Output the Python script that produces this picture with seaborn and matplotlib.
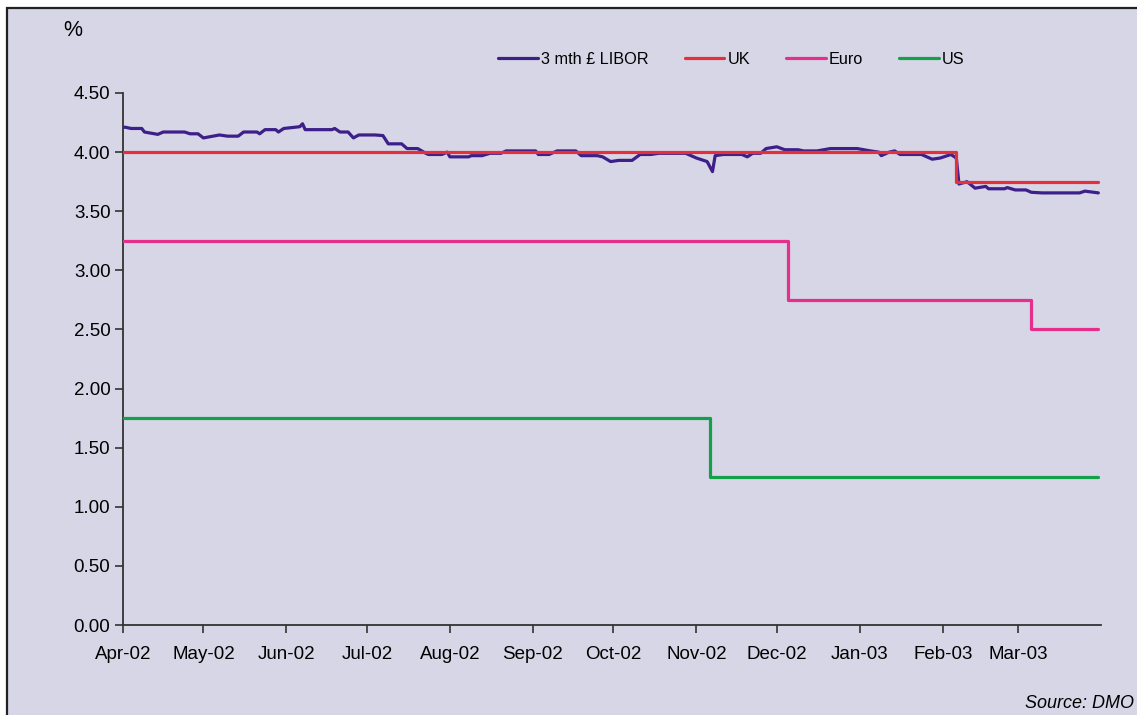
import pandas as pd
import matplotlib
matplotlib.use("Agg")
import matplotlib.pyplot as plt
import matplotlib.dates as mdates
from matplotlib.patches import Rectangle
from matplotlib.ticker import FormatStrFormatter
import seaborn as sns

# 3 month sterling LIBOR
libor_dates = [
    "2002-04-01", "2002-04-02", "2002-04-04", "2002-04-08", "2002-04-09", "2002-04-14",
    "2002-04-16", "2002-04-24", "2002-04-26", "2002-04-29", "2002-05-01", "2002-05-07",
    "2002-05-10", "2002-05-14", "2002-05-16", "2002-05-21", "2002-05-22", "2002-05-24",
    "2002-05-28", "2002-05-29", "2002-05-31", "2002-06-06", "2002-06-07", "2002-06-08",
    "2002-06-18", "2002-06-19", "2002-06-21", "2002-06-24", "2002-06-26", "2002-06-28",
    "2002-07-04", "2002-07-07", "2002-07-09", "2002-07-14", "2002-07-16", "2002-07-20",
    "2002-07-23", "2002-07-24", "2002-07-29", "2002-07-31", "2002-08-01", "2002-08-08",
    "2002-08-09", "2002-08-13", "2002-08-16", "2002-08-20", "2002-08-22", "2002-09-02",
    "2002-09-03", "2002-09-07", "2002-09-10", "2002-09-17", "2002-09-19", "2002-09-25",
    "2002-09-27", "2002-09-30", "2002-10-03", "2002-10-08", "2002-10-11", "2002-10-15",
    "2002-10-18", "2002-10-28", "2002-11-01", "2002-11-05", "2002-11-07", "2002-11-08",
    "2002-11-11", "2002-11-18", "2002-11-20", "2002-11-22", "2002-11-25", "2002-11-27",
    "2002-12-01", "2002-12-04", "2002-12-09", "2002-12-11", "2002-12-16", "2002-12-21",
    "2002-12-31", "2003-01-05", "2003-01-08", "2003-01-09", "2003-01-12", "2003-01-14",
    "2003-01-16", "2003-01-24", "2003-01-28", "2003-01-31", "2003-02-04", "2003-02-06",
    "2003-02-07", "2003-02-10", "2003-02-13", "2003-02-17", "2003-02-18", "2003-02-24",
    "2003-02-25", "2003-02-28", "2003-03-04", "2003-03-06", "2003-03-10", "2003-03-24",
    "2003-03-26", "2003-03-31",
]
libor_values = [
    4.21, 4.21, 4.20, 4.20, 4.17, 4.15,
    4.17, 4.17, 4.155, 4.155, 4.12, 4.145,
    4.135, 4.135, 4.17, 4.17, 4.155, 4.19,
    4.19, 4.17, 4.20, 4.215, 4.24, 4.19,
    4.19, 4.20, 4.17, 4.17, 4.12, 4.145,
    4.145, 4.14, 4.07, 4.07, 4.03, 4.03,
    3.99, 3.98, 3.98, 4.00, 3.96, 3.96,
    3.97, 3.97, 3.99, 3.99, 4.01, 4.01,
    3.98, 3.98, 4.01, 4.01, 3.97, 3.97,
    3.96, 3.92, 3.93, 3.93, 3.98, 3.98,
    3.99, 3.99, 3.95, 3.92, 3.835, 3.97,
    3.98, 3.98, 3.96, 3.99, 3.99, 4.03,
    4.045, 4.02, 4.02, 4.01, 4.01, 4.03,
    4.03, 4.01, 4.00, 3.97, 4.00, 4.01,
    3.98, 3.98, 3.94, 3.95, 3.98, 3.95,
    3.73, 3.75, 3.695, 3.71, 3.69, 3.69,
    3.70, 3.68, 3.68, 3.66, 3.655, 3.655,
    3.67, 3.655,
]

# official policy rates (step changes)
uk_dates = ["2002-04-01", "2003-02-06", "2003-03-31"]
uk_values = [4.00, 3.75, 3.75]
euro_dates = ["2002-04-01", "2002-12-05", "2003-03-06", "2003-03-31"]
euro_values = [3.25, 2.75, 2.50, 2.50]
us_dates = ["2002-04-01", "2002-11-06", "2003-03-31"]
us_values = [1.75, 1.25, 1.25]

bg = "#d7d6e6"

sns.set_theme(style="ticks")
plt.rcParams["font.family"] = ["Liberation Sans", "DejaVu Sans"]
plt.rcParams["text.color"] = "black"

fig = plt.figure(figsize=(11.37, 7.15), dpi=100, facecolor="white")
# lavender panel with dark border (runs off the right and bottom edges)
fig.patches.append(Rectangle((7 / 1137, -0.05), 1.1, 1 - 8 / 715 + 0.05,
                             transform=fig.transFigure, facecolor=bg,
                             edgecolor="#222222", linewidth=1.6, zorder=-10))

ax = fig.add_axes([123 / 1137, 90 / 715, (1101 - 123) / 1137, (625 - 93) / 715])
ax.set_facecolor("none")

libor = pd.DataFrame({"date": pd.to_datetime(libor_dates), "rate": libor_values})
uk = pd.DataFrame({"date": pd.to_datetime(uk_dates), "rate": uk_values})
euro = pd.DataFrame({"date": pd.to_datetime(euro_dates), "rate": euro_values})
us = pd.DataFrame({"date": pd.to_datetime(us_dates), "rate": us_values})

sns.lineplot(data=libor, x="date", y="rate", ax=ax, color="#3d1f8a", linewidth=2.3,
             label="3 mth \u00a3 LIBOR", zorder=2)
sns.lineplot(data=uk, x="date", y="rate", ax=ax, color="#e2313a", linewidth=2.3,
             drawstyle="steps-post", label="UK", zorder=3)
sns.lineplot(data=euro, x="date", y="rate", ax=ax, color="#e4308c", linewidth=2.3,
             drawstyle="steps-post", label="Euro", zorder=3)
sns.lineplot(data=us, x="date", y="rate", ax=ax, color="#12a04a", linewidth=2.3,
             drawstyle="steps-post", label="US", zorder=3)

ax.set_xlim(pd.Timestamp("2002-04-01"), pd.Timestamp("2003-04-01"))
ax.set_ylim(0, 4.5)
ax.set_yticks([i * 0.5 for i in range(10)])
ax.yaxis.set_major_formatter(FormatStrFormatter("%.2f"))
# month ticks Apr-02 .. Mar-03
ax.set_xticks(pd.date_range("2002-04-01", "2003-03-01", freq="MS"))
ax.xaxis.set_major_formatter(mdates.DateFormatter("%b-%y"))
ax.set_xlabel("")
ax.set_ylabel("")

for side in ["top", "right"]:
    ax.spines[side].set_visible(False)
for side in ["left", "bottom"]:
    ax.spines[side].set_color("#333333")
    ax.spines[side].set_linewidth(1.3)
ax.tick_params(axis="both", colors="#333333", labelcolor="black", labelsize=13.5,
               length=6, width=1.2, direction="out")
ax.tick_params(axis="x", pad=9)
ax.tick_params(axis="y", pad=3)

ax.legend(loc="center left", bbox_to_anchor=(490 / 1137, 1 - 59 / 715),
          bbox_transform=fig.transFigure, ncol=4, frameon=False, fontsize=11.7,
          handlelength=2.45, handletextpad=0.2, columnspacing=2.2, borderpad=0)

fig.text(63 / 1137, 1 - 30 / 715, "%", fontsize=15.5, va="center", ha="left")
fig.text(1134 / 1137, 1 - 704 / 715, "Source: DMO", fontsize=13, style="italic",
         va="center", ha="right")

fig.savefig("out.png", dpi=100, facecolor=fig.get_facecolor())
